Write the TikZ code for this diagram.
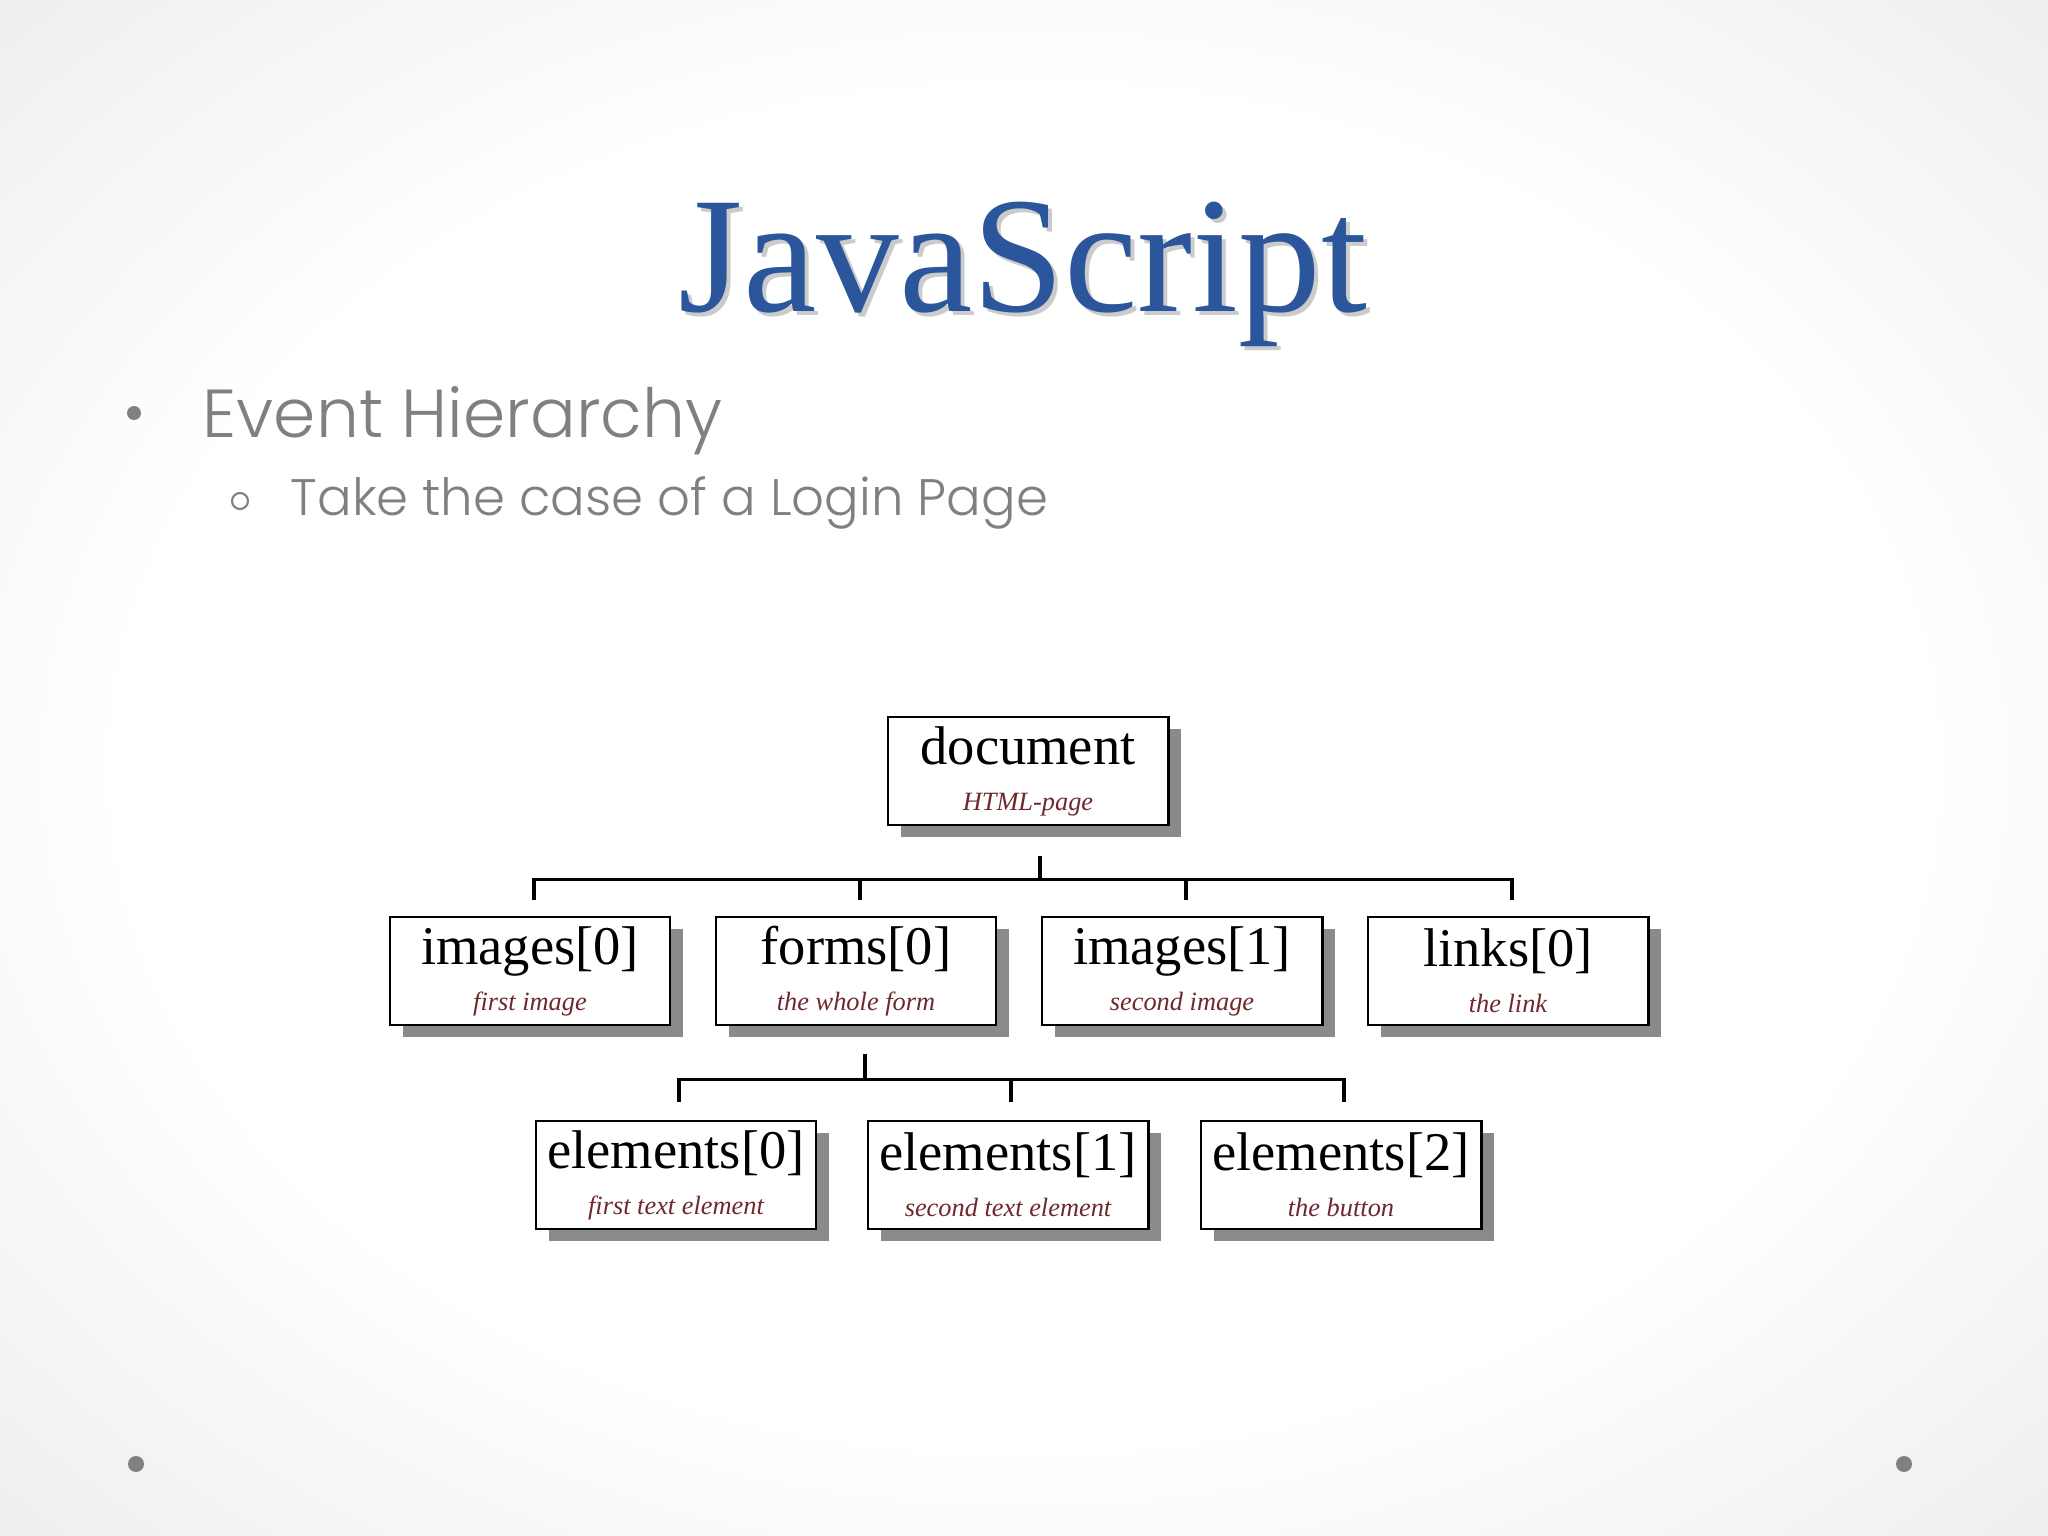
\documentclass[tikz,border=0pt]{standalone}
\usepackage{fontspec}
\setmainfont{Liberation Serif}
\newfontfamily\slidefont{Poppins Light}
\usepackage{tikz}
\usetikzlibrary{positioning,shadows}

\definecolor{titleblue}{RGB}{44,86,155}
\definecolor{bulletgray}{RGB}{128,128,128}
\definecolor{subred}{RGB}{110,40,46}
\definecolor{shadowgray}{RGB}{138,138,140}

\pgfdeclareradialshading{slidebg}{\pgfpoint{0bp}{0bp}}{color(0bp)=(white); color(22bp)=(white); color(50bp)=(black!14); color(72bp)=(black!17)}

\newcommand{\objlabel}[2]{#1\\{\fontsize{7.5}{9}\selectfont\itshape\color{subred}#2}}

\begin{document}
\begin{tikzpicture}[x=0.01cm,y=-0.01cm]
	%defines
	\tikzstyle{objbox} = [rectangle, draw=black, line width=0.8pt, fill=white, minimum width=2.80cm, minimum height=1.08cm, inner sep=0pt, align=center, font=\fontsize{15.5}{13.1}\selectfont, general shadow={fill=shadowgray, shadow xshift=0.13cm, shadow yshift=-0.12cm}]
	\tikzstyle{wire} = [line width=1.1pt]
	%slide
	\useasboundingbox (0,0) rectangle (2048,1536);
	\shade [shading=slidebg] (0,0) rectangle (2048,1536);
	\fill [white] (388,700) rectangle (1660,1244);
	\node (titleshadow) [anchor=base, text=black!40, opacity=0.5, font=\fontsize{47}{50}\selectfont] at (1027,315) {JavaScript};
	\node (title) [anchor=base, text=titleblue, font=\fontsize{47}{50}\selectfont] at (1023,311) {JavaScript};
	\fill [bulletgray] (134,413) circle (7);
	\node (topic) [anchor=base west, inner sep=0pt, text=bulletgray, font=\slidefont\fontsize{19.3}{22}\selectfont] at (202,437) {Event Hierarchy};
	\draw [bulletgray, line width=0.6pt] (240,501) circle (8);
	\node (subtopic) [anchor=base west, inner sep=0pt, text=bulletgray, font=\slidefont\fontsize{14.6}{18}\selectfont] at (290,515) {Take the case of a Login Page};
	\fill [bulletgray] (136,1464) circle (8);
	\fill [bulletgray] (1904,1464) circle (8);
	%chart
	\node (document) [objbox] at (1028,771) {\objlabel{document}{HTML-page}};
	\node (imagesA) [objbox] at (530,971) {\objlabel{images[0]}{first image}};
	\node (formsA) [objbox, right=0.43cm of imagesA] {\objlabel{forms[0]}{the whole form}};
	\node (imagesB) [objbox, right=0.43cm of formsA] {\objlabel{images[1]}{second image}};
	\node (linksA) [objbox, right=0.43cm of imagesB] {\objlabel{links[0]}{the link}};
	\node (elementsA) [objbox] at (676,1175) {\objlabel{elements[0]}{first text element}};
	\node (elementsB) [objbox, right=0.49cm of elementsA] {\objlabel{elements[1]}{second text element}};
	\node (elementsC) [objbox, right=0.50cm of elementsB] {\objlabel{elements[2]}{the button}};
	\foreach \kid in {imagesA,formsA,imagesB,linksA}
		\draw [wire] ([xshift=0.12cm,yshift=-0.30cm]document.south) -- ++(0,23) -| ([xshift=0.04cm,yshift=0.16cm]\kid.north);
	\foreach \kid in {elementsA,elementsB,elementsC}
		\draw [wire] ([xshift=0.09cm,yshift=-0.28cm]formsA.south) -- ++(0,25) -| ([xshift=0.03cm,yshift=0.18cm]\kid.north);
\end{tikzpicture}
\end{document}
